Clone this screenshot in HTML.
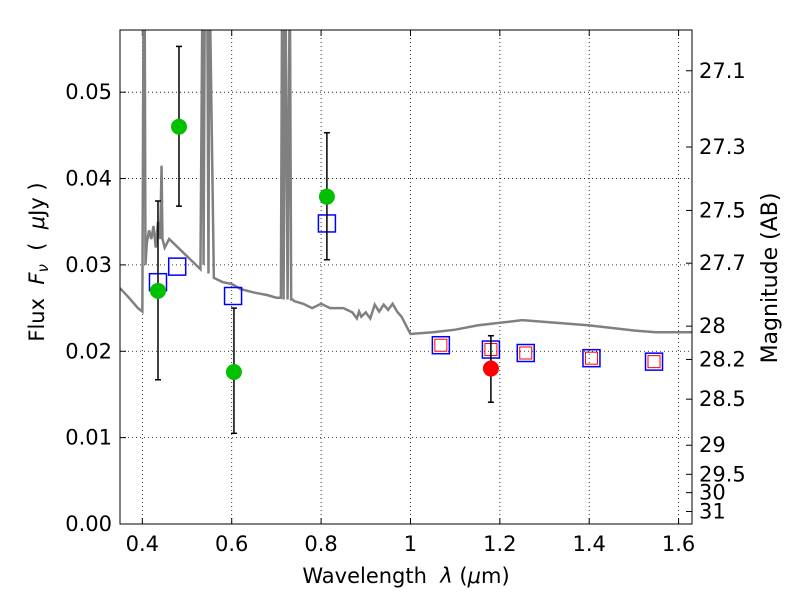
<!DOCTYPE html>
<html><head><meta charset="utf-8"><style>
body{margin:0;background:#fff;}
svg text{font-family:"DejaVu Sans","Liberation Sans",sans-serif;fill:#000;}
</style></head><body>
<svg id="c" width="800" height="600"></svg>
<script>
const specX=[0.35,0.37,0.39,0.40,0.403,0.405,0.407,0.41,0.415,0.42,0.425,0.43,0.435,0.44,0.443,0.445,0.45,0.46,0.47,0.48,0.49,0.50,0.52,0.53,0.535,0.537,0.54,0.545,0.548,0.55,0.56,0.58,0.60,0.62,0.65,0.68,0.70,0.71,0.713,0.716,0.72,0.725,0.73,0.733,0.736,0.74,0.76,0.78,0.80,0.82,0.85,0.87,0.88,0.885,0.89,0.90,0.91,0.92,0.93,0.94,0.95,0.96,0.97,0.98,1.00,1.05,1.10,1.15,1.20,1.25,1.30,1.40,1.50,1.55,1.63];
const specY=[0.0273,0.0262,0.0250,0.0246,0.065,0.065,0.030,0.0325,0.0340,0.0330,0.0345,0.0320,0.0350,0.0330,0.0415,0.0330,0.0320,0.0330,0.0325,0.0320,0.0315,0.0310,0.0300,0.0295,0.065,0.030,0.065,0.065,0.029,0.065,0.0285,0.0280,0.0278,0.0272,0.0268,0.0265,0.0262,0.0262,0.065,0.026,0.065,0.026,0.065,0.026,0.026,0.0258,0.0255,0.0250,0.0255,0.0250,0.0250,0.0245,0.0238,0.0246,0.0240,0.0245,0.0238,0.0254,0.0246,0.0254,0.0248,0.0255,0.0246,0.0240,0.0220,0.0222,0.0225,0.0230,0.0233,0.0236,0.0234,0.0230,0.0224,0.0222,0.0222];
const greenX=[0.435,0.482,0.605,0.813];
const greenY=[0.0270,0.0460,0.0176,0.0379];
const greenHi=[0.0374,0.0553,0.0250,0.0453];
const greenLo=[0.0167,0.0368,0.0105,0.0306];
const redX=[1.18];const redY=[0.0180];const redHi=[0.0218];const redLo=[0.0141];
const blueX=[0.435,0.478,0.603,0.813,1.068,1.18,1.258,1.405,1.545];
const blueY=[0.0280,0.0298,0.0264,0.0348,0.0207,0.0202,0.0198,0.0192,0.0188];
const smallRedX=[1.068,1.18,1.258,1.405,1.545];
const smallRedY=[0.0207,0.0202,0.0198,0.0192,0.0188];
const xTicks=[0.4,0.6,0.8,1.0,1.2,1.4,1.6];
const xTickLabels=["0.4","0.6","0.8","1","1.2","1.4","1.6"];
const yTicks=[0,0.01,0.02,0.03,0.04,0.05];
const yTickLabels=["0.00","0.01","0.02","0.03","0.04","0.05"];
const magTicks=[27.1,27.3,27.5,27.7,28,28.2,28.5,29,29.5,30,31];
const magLabels=["27.1","27.3","27.5","27.7","28","28.2","28.5","29","29.5","30","31"];

const L=120,R=692,T=30,B=524,xmin=0.35,xmax=1.63,ymax=0.0572;
const sx=v=>L+(v-xmin)/(xmax-xmin)*(R-L);
const sy=v=>B-v/ymax*(B-T);
const svg=document.getElementById('c');const NS='http://www.w3.org/2000/svg';
function mk(t,a,p){const e=document.createElementNS(NS,t);for(const k in a)e.setAttribute(k,a[k]);(p||svg).appendChild(e);return e;}
const clip=mk('clipPath',{id:'pc'});mk('rect',{x:L,y:T,width:R-L,height:B-T},clip);
xTicks.forEach((v,i)=>{const g=mk('line',{x1:sx(v),x2:sx(v),y1:T,y2:B,stroke:'#000','stroke-dasharray':'1,3','stroke-width':0.8});

const t=mk('text',{x:sx(v),y:B+27,'text-anchor':'middle','font-size':21});t.textContent=xTickLabels[i];

mk('line',{x1:sx(v),x2:sx(v),y1:B,y2:B-6,stroke:'#000'});mk('line',{x1:sx(v),x2:sx(v),y1:T,y2:T+6,stroke:'#000'});});
yTicks.forEach((v,i)=>{const g=mk('line',{x1:L,x2:R,y1:sy(v),y2:sy(v),stroke:'#000','stroke-dasharray':'1,3','stroke-width':0.8});

const t=mk('text',{x:L-8,y:sy(v)+7,'text-anchor':'end','font-size':21});t.textContent=yTickLabels[i];

mk('line',{x1:L,x2:L+6,y1:sy(v),y2:sy(v),stroke:'#000'});});
magTicks.forEach((m,i)=>{const f=Math.pow(10,(23.9-m)/2.5);const y=sy(f);
mk('line',{x1:R,x2:R-6,y1:y,y2:y,stroke:'#000'});
const t=mk('text',{x:R+7,y:y+7,'font-size':21});t.textContent=magLabels[i];
});
const pl=mk('polyline',{points:specX.map((x,i)=>sx(x)+','+sy(specY[i])).join(' '),fill:'none',stroke:'#808080','stroke-width':2.5,'clip-path':'url(#pc)'});

function errs(X,Y,H,Lo,col,name){X.forEach((x,i)=>{
mk('line',{x1:sx(x),x2:sx(x),y1:sy(H[i]),y2:sy(Lo[i]),stroke:'#000','stroke-width':1.5});
[H[i],Lo[i]].forEach(v=>mk('line',{x1:sx(x)-3,x2:sx(x)+3,y1:sy(v),y2:sy(v),stroke:'#000','stroke-width':1.5}));
const c=mk('circle',{cx:sx(x),cy:sy(Y[i]),r:8,fill:col});
});}
blueX.forEach((x,i)=>{const r=mk('rect',{x:sx(x)-8.5,y:sy(blueY[i])-8.5,width:17,height:17,fill:'none',stroke:'#0000ff','stroke-width':1.5});
});
smallRedX.forEach((x,i)=>{const r=mk('rect',{x:sx(x)-6,y:sy(smallRedY[i])-6,width:12,height:12,fill:'none',stroke:'#ff0000','stroke-width':1});
});
errs(greenX,greenY,greenHi,greenLo,'#00c000','green-observed-point');
errs(redX,redY,redHi,redLo,'#ff0000','red-observed-point');
const fr=mk('rect',{x:L,y:T,width:R-L,height:B-T,fill:'none',stroke:'#000','stroke-width':1});

let t=mk('text',{x:406,y:583,'text-anchor':'middle','font-size':21});t.innerHTML='Wavelength\u00a0\u00a0<tspan font-style="italic">λ</tspan> (<tspan font-style="italic">μ</tspan>m)';

t=mk('text',{x:0,y:0,'text-anchor':'middle','font-size':21,transform:'translate(44,262) rotate(-90)'});t.innerHTML='Flux\u00a0\u00a0<tspan font-style="italic">F</tspan><tspan font-style="italic" font-size="15" dy="4">ν</tspan><tspan dy="-4">\u00a0\u00a0(\u00a0\u00a0</tspan><tspan font-style="italic">μ</tspan>Jy )';

t=mk('text',{x:0,y:0,'text-anchor':'middle','font-size':22,transform:'translate(777,278) rotate(-90)'});t.textContent='Magnitude (AB)';

</script>
</body></html>
